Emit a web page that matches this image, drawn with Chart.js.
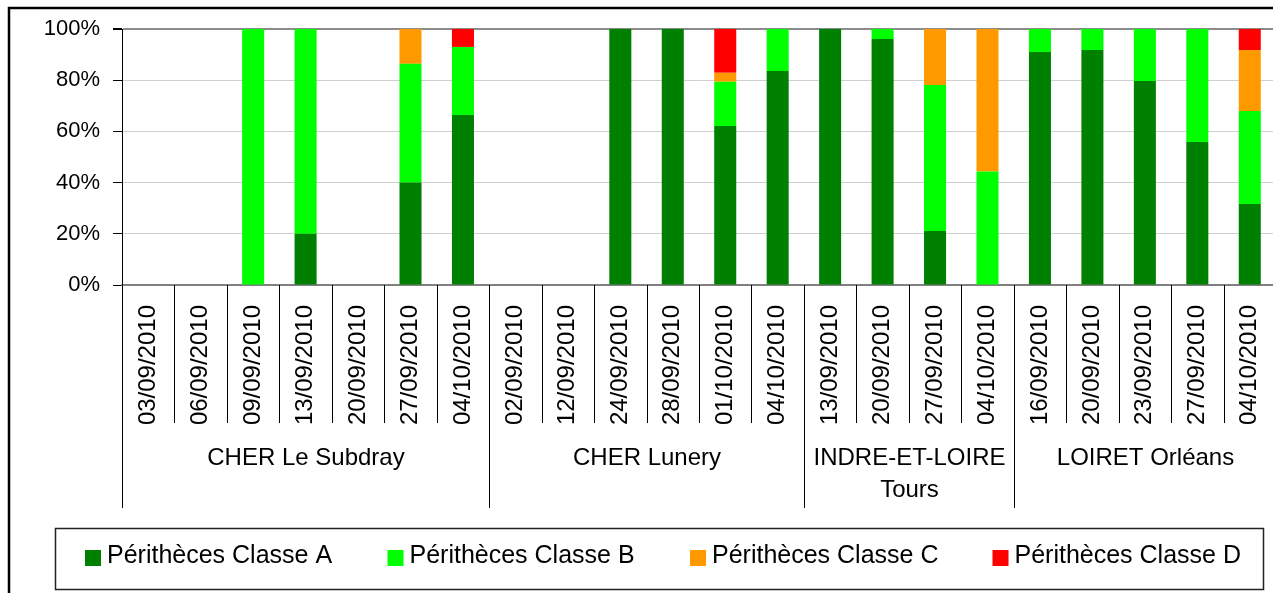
<!DOCTYPE html>
<html>
<head>
<meta charset="utf-8">
<script src="https://cdn.jsdelivr.net/npm/chart.js@4/dist/chart.umd.min.js"></script>
<style>
  html, body { margin: 0; padding: 0; background: #fff; overflow: hidden; }
  #wrap { width: 1276px; height: 593px; }
</style>
</head>
<body>
<div id="wrap"><canvas id="chart"></canvas></div>
<script>
// Périthèces par classe, % par date de prélèvement

const DATES = [
  '03/09/2010', '06/09/2010', '09/09/2010', '13/09/2010', '20/09/2010', '27/09/2010', '04/10/2010',
  '02/09/2010', '12/09/2010', '24/09/2010', '28/09/2010', '01/10/2010', '04/10/2010',
  '13/09/2010', '20/09/2010', '27/09/2010', '04/10/2010',
  '16/09/2010', '20/09/2010', '23/09/2010', '27/09/2010', '04/10/2010',
];

// site groups: label lines + number of dates
const GROUP_NAMES = [['CHER Le Subdray'], ['CHER Lunery'], ['INDRE-ET-LOIRE', 'Tours'], ['LOIRET Orléans']];
const GROUP_SIZES = [7, 6, 4, 5];

const CLASSE_A = [0, 0, 0, 20, 0, 40, 66.4,   0, 0, 100, 100, 62.1, 83.6,   100, 96.1, 21.1, 0,      91, 91.8, 79.7, 55.9, 31.6];
const CLASSE_B = [0, 0, 100, 80, 0, 46.4, 26.6, 0, 0, 0, 0, 17.3, 16.4,     0, 3.9, 57, 44.3,        9, 8.2, 20.3, 44.1, 36.4];
const CLASSE_C = [0, 0, 0, 0, 0, 13.6, 0,     0, 0, 0, 0, 3.5, 0,           0, 0, 21.9, 55.7,        0, 0, 0, 0, 23.8];
const CLASSE_D = [0, 0, 0, 0, 0, 0, 7,        0, 0, 0, 0, 17.1, 0,          0, 0, 0, 0,              0, 0, 0, 0, 8.2];

const Y_TICKS = [0, 20, 40, 60, 80, 100];

const FONT = '"Liberation Sans", Arial, sans-serif';

function ds(label, data, color) {
  return {
    label, data,
    backgroundColor: color,
    borderWidth: 0,
    barPercentage: 0.42,
    categoryPercentage: 1.0,
  };
}

// --- frame, separators, group labels, legend ---

const decorPlugin = {
  id: 'decor',
  afterDraw(chart) {
    const { ctx } = chart;
    const x = chart.scales.x;
    const axisY = chart.chartArea.bottom;
    const half = (x.getPixelForValue(1) - x.getPixelForValue(0)) / 2;
    const edge = i => Math.round(x.getPixelForValue(i) - half) + 0.5;

    ctx.save();

    // outer frame
    ctx.strokeStyle = '#000';
    ctx.lineWidth = 2.5;
    ctx.strokeRect(9, 8, 2000, 2000);

    // separators between dates
    ctx.lineWidth = 1;
    ctx.strokeStyle = '#000';
    for (let i = 1; i < DATES.length; i++) {
      ctx.beginPath();
      ctx.moveTo(edge(i), axisY);
      ctx.lineTo(edge(i), axisY + 138);
      ctx.stroke();
    }

    // group separators + labels
    let start = 0;
    ctx.fillStyle = '#000';
    ctx.font = '24px ' + FONT;
    ctx.textAlign = 'center';
    ctx.textBaseline = 'middle';
    GROUP_SIZES.forEach((n, g) => {
      ctx.beginPath();
      ctx.moveTo(edge(start), axisY);
      ctx.lineTo(edge(start), axisY + 223);
      ctx.stroke();
      const cx = (edge(start) + edge(start + n)) / 2;
      GROUP_NAMES[g].forEach((line, k) => {
        ctx.fillText(line, cx, axisY + 173 + k * 32);
      });
      start += n;
    });

    // legend
    const lg = { left: 55, top: 528, width: 1208, height: 61 };
    ctx.lineWidth = 1.5;
    ctx.strokeStyle = '#222';
    ctx.strokeRect(lg.left + 0.5, lg.top + 0.5, lg.width, lg.height);
    ctx.textAlign = 'left';
    ctx.font = '25px ' + FONT;
    chart.data.datasets.forEach((d, i) => {
      const bx = 85 + i * 302.5;
      const cy = lg.top + 28;
      ctx.fillStyle = d.backgroundColor;
      ctx.fillRect(bx, cy - 6, 16, 16);
      ctx.fillStyle = '#000';
      ctx.fillText(d.label, bx + 22, cy);
    });

    ctx.restore();
  },
};

new Chart(document.getElementById('chart'), {
  type: 'bar',
  data: {
    labels: DATES,
    datasets: [
      ds('Périthèces Classe A', CLASSE_A, '#008000'),
      ds('Périthèces Classe B', CLASSE_B, '#00ff00'),
      ds('Périthèces Classe C', CLASSE_C, '#ff9900'),
      ds('Périthèces Classe D', CLASSE_D, '#ff0000'),
    ],
  },
  options: {
    responsive: true,
    maintainAspectRatio: false,
    animation: false,
    events: [],
    layout: { padding: { top: 29, left: 0, right: 0, bottom: 0 } },
    plugins: {
      legend: { display: false },
      tooltip: { enabled: false },
    },
    scales: {
      x: {
        stacked: true,
        offset: true,
        grid: { display: false, drawTicks: false },
        border: { color: '#808080', width: 2 },
        ticks: {
          autoSkip: false,
          minRotation: 90,
          maxRotation: 90,
          padding: 20,
          color: '#000',
          font: { family: FONT, size: 24 },
        },
        afterFit: s => {
          s.height = 593 - 29 - 256;
          s.paddingLeft = 0;
          s.paddingRight = 0;
        },
      },
      y: {
        stacked: true,
        min: 0,
        max: 100,
        afterBuildTicks: s => { s.ticks = Y_TICKS.map(v => ({ value: v })); },
        grid: {
          color: c => c.tick && c.tick.value === 100 ? '#8c8c8c' : '#cfcfcf',
          lineWidth: c => c.tick && c.tick.value === 100 ? 2 : 1,
          tickLength: 9,
          tickColor: '#000',
        },
        border: { color: '#000', width: 1 },
        ticks: {
          padding: 13,
          color: '#000',
          font: { family: FONT, size: 22 },
          callback: v => v + '%',
        },
        afterFit: s => { s.width = 122; },
      },
    },
  },
  plugins: [decorPlugin],
});
</script>
</body>
</html>
